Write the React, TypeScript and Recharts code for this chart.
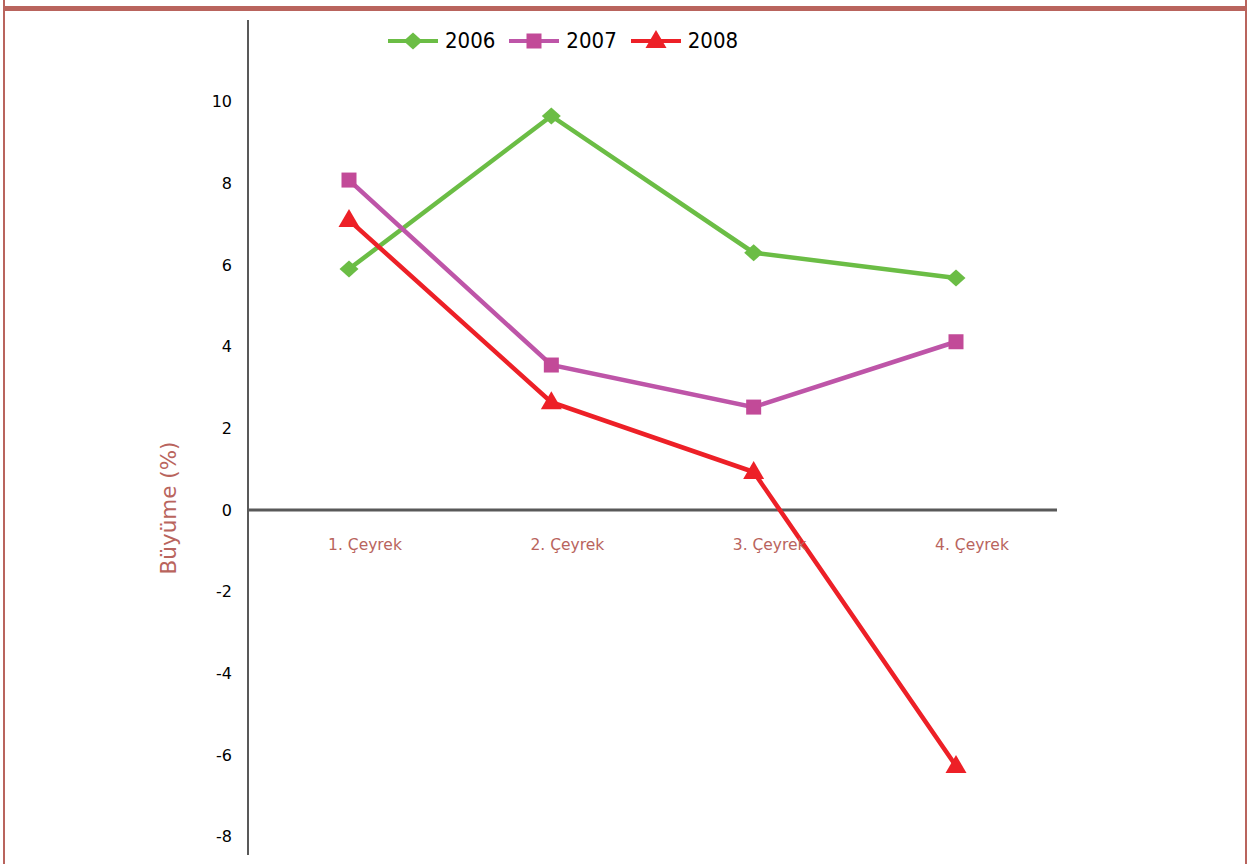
import React from 'react';
import { Line, LineChart, ReferenceLine, XAxis, YAxis } from 'recharts';

const quarters = ['1. Çeyrek', '2. Çeyrek', '3. Çeyrek', '4. Çeyrek'];
const growth2006 = [5.9, 9.65, 6.3, 5.68];
const growth2007 = [8.08, 3.55, 2.52, 4.12];
const growth2008 = [7.1, 2.64, 0.93, -6.27];
const yTicks = [-8, -6, -4, -2, 0, 2, 4, 6, 8, 10];

const data = quarters.map((q, i) => ({
	quarter: q,
	y2006: growth2006[i],
	y2007: growth2007[i],
	y2008: growth2008[i],
}));

const FONT = '"DejaVu Sans", sans-serif';
const LEGEND_FONT = '"DejaVu Sans Condensed", "DejaVu Sans", sans-serif';
const BROWN = '#b9645d';
const AXIS = '#595959';
const GREEN = '#6bbd45';
const MAGENTA = '#be55a8';
const MAGENTA_DOT = '#c24a98';
const RED = '#ed2027';

const W = 1250;
const H = 864;
const margin = { top: 20, right: 193, bottom: 0, left: 188 };
const yDomain: [number, number] = [-8.45, 12];
const xAxisHeight = 9;
const plotTop = margin.top;
const plotHeight = H - margin.top - margin.bottom - xAxisHeight;
const zeroY = plotTop + (yDomain[1] / (yDomain[1] - yDomain[0])) * plotHeight;

type Shape = 'diamond' | 'square' | 'triangle';

function marker(shape: Shape, cx: number, cy: number, fill: string) {
	if (shape === 'diamond') {
		return <path d={`M${cx} ${cy - 8.5}L${cx + 9.5} ${cy}L${cx} ${cy + 8.5}L${cx - 9.5} ${cy}Z`} fill={fill} />;
	}
	if (shape === 'square') {
		return <rect x={cx - 7.5} y={cy - 7.5} width={15} height={15} fill={fill} />;
	}
	return <path d={`M${cx} ${cy - 11}L${cx + 10.5} ${cy + 7}L${cx - 10.5} ${cy + 7}Z`} fill={fill} />;
}

const makeDot = (shape: Shape, fill: string) => (props: any) => (
	<g key={`${shape}-${props.index}`}>{marker(shape, props.cx, props.cy, fill)}</g>
);

const legendItems: { label: string; color: string; dot: string; shape: Shape }[] = [
	{ label: '2006', color: GREEN, dot: GREEN, shape: 'diamond' },
	{ label: '2007', color: MAGENTA, dot: MAGENTA_DOT, shape: 'square' },
	{ label: '2008', color: RED, dot: RED, shape: 'triangle' },
];

function ChartLegend() {
	return (
		<div
			style={{
				position: 'absolute',
				top: 28,
				left: 388,
				display: 'flex',
				alignItems: 'center',
				fontFamily: LEGEND_FONT,
				fontSize: 22,
				color: '#000',
			}}
		>
			{legendItems.map((it) => (
				<div key={it.label} style={{ display: 'flex', alignItems: 'center', marginRight: 14 }}>
					<svg width={50} height={24} style={{ marginRight: 7 }}>
						<line x1={0} y1={12} x2={50} y2={12} stroke={it.color} strokeWidth={4} />
						{marker(it.shape, 25, 12, it.dot)}
					</svg>
					<span>{it.label}</span>
				</div>
			))}
		</div>
	);
}

// labels sit a little right of the data points, as in the original
function QuarterTick(props: any) {
	const { x, payload } = props;
	return (
		<text x={x + 16} y={zeroY + 40} textAnchor="middle" fill={BROWN} fontSize={15.5} fontFamily={FONT}>
			{payload.value}
		</text>
	);
}

export default function App() {
	return (
		<div style={{ position: 'absolute', left: 0, top: 0, width: W, height: H, background: '#fff', overflow: 'hidden' }}>
			<div style={{ position: 'absolute', left: 3, top: 0, width: 2, height: H, background: BROWN }} />
			<div style={{ position: 'absolute', left: 1245, top: 0, width: 2, height: H, background: BROWN }} />
			<div style={{ position: 'absolute', left: 3, top: 6, width: 1244, height: 5, background: BROWN }} />
			<LineChart width={W} height={H} data={data} margin={margin}>
				<XAxis
					dataKey="quarter"
					height={xAxisHeight}
					axisLine={false}
					tickLine={false}
					padding={{ left: 101, right: 101 }}
					tick={<QuarterTick />}
					interval={0}
				/>
				<YAxis
					type="number"
					domain={yDomain}
					ticks={yTicks}
					width={60}
					axisLine={{ stroke: AXIS, strokeWidth: 2 }}
					tickLine={false}
					tickSize={0}
					tickMargin={16}
					tick={{ fill: '#000', fontSize: 16, fontFamily: FONT }}
					label={{
						content: () => (
							<text
								x={168}
								y={508}
								transform="rotate(-90 168 508)"
								textAnchor="middle"
								dominantBaseline="central"
								fill={BROWN}
								fontSize={21.5}
								fontFamily={FONT}
							>
								Büyüme (%)
							</text>
						),
					}}
				/>
				<ReferenceLine y={0} stroke={AXIS} strokeWidth={3} />
				<Line dataKey="y2006" stroke={GREEN} strokeWidth={4.5} dot={makeDot('diamond', GREEN)} isAnimationActive={false} />
				<Line dataKey="y2007" stroke={MAGENTA} strokeWidth={4.5} dot={makeDot('square', MAGENTA_DOT)} isAnimationActive={false} />
				<Line dataKey="y2008" stroke={RED} strokeWidth={4.5} dot={makeDot('triangle', RED)} isAnimationActive={false} />
			</LineChart>
			<ChartLegend />
		</div>
	);
}
